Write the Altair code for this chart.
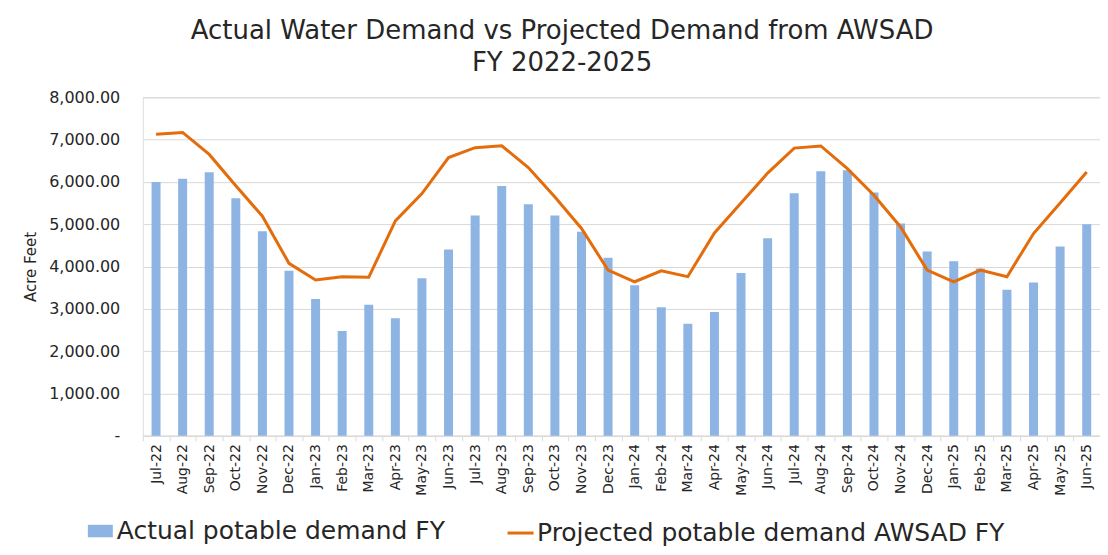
import altair as alt
import pandas as pd

months = ["Jul-22", "Aug-22", "Sep-22", "Oct-22", "Nov-22", "Dec-22",
          "Jan-23", "Feb-23", "Mar-23", "Apr-23", "May-23", "Jun-23",
          "Jul-23", "Aug-23", "Sep-23", "Oct-23", "Nov-23", "Dec-23",
          "Jan-24", "Feb-24", "Mar-24", "Apr-24", "May-24", "Jun-24",
          "Jul-24", "Aug-24", "Sep-24", "Oct-24", "Nov-24", "Dec-24",
          "Jan-25", "Feb-25", "Mar-25", "Apr-25", "May-25", "Jun-25"]

actual = [6000, 6075, 6230, 5615, 4835, 3900,
          3230, 2475, 3095, 2775, 3720, 4405,
          5205, 5905, 5470, 5205, 4820, 4205,
          3560, 3035, 2645, 2925, 3845, 4670,
          5735, 6250, 6275, 5750, 5015, 4355,
          4125, 3955, 3450, 3625, 4475, 5000]

projected = [7125, 7170, 6650, 5910, 5190, 4075,
             3680, 3760, 3745, 5080, 5725, 6575,
             6810, 6855, 6340, 5645, 4900, 3915,
             3640, 3900, 3760, 4795, 5500, 6210,
             6800, 6850, 6315, 5685, 4935, 3915,
             3640, 3915, 3760, 4780, 5500, 6235]

actual_name = "Actual potable demand FY"
projected_name = "Projected potable demand AWSAD FY"
title_lines = ["Actual Water Demand vs Projected Demand from AWSAD", "FY 2022-2025"]
y_ticks = [0, 1000, 2000, 3000, 4000, 5000, 6000, 7000, 8000]

FONT = "DejaVu Sans"
TXT = "#262626"

df = pd.DataFrame({
    "Month": months,
    "Actual": actual,
    "Projected": projected,
    "s1": actual_name,
    "s2": projected_name,
})

x_enc = alt.X(
    "Month:N", sort=months,
    scale=alt.Scale(paddingInner=0, paddingOuter=0),
    axis=alt.Axis(title=None, labelAngle=270, labelFontSize=14, labelFont=FONT,
                  labelColor=TXT, labelPadding=3, tickBand="extent", tickSize=5,
                  tickColor="#d9d9d9", domainColor="#d9d9d9", grid=False),
)

y_axis = alt.Axis(
    values=y_ticks, title="Acre Feet", titleFontSize=15, titleFont=FONT,
    titleFontWeight="normal", titleColor=TXT, titlePadding=10,
    labelFontSize=16, labelFont=FONT, labelColor=TXT, labelPadding=23,
    labelExpr="datum.value == 0 ? '-\u00a0\u00a0' : format(datum.value, ',.2f')",
    domain=False, ticks=False, grid=True, gridColor="#d9d9d9",
)

base = alt.Chart(df)

bars = base.mark_bar(size=9).encode(
    x=x_enc,
    y=alt.Y("Actual:Q", scale=alt.Scale(domain=[0, 8000]), axis=y_axis),
    fill=alt.Fill("s1:N", scale=alt.Scale(range=["#8eb4e3"]),
                  legend=alt.Legend(title=None, orient="none", legendX=-55, legendY=422,
                                    symbolType="M-1,-0.5H1V0.5H-1Z", symbolSize=625,
                                    symbolStrokeWidth=0, labelFontSize=25, labelFont=FONT,
                                    labelColor=TXT, labelOffset=4, labelLimit=700, padding=0)),
)

line = base.mark_line(strokeWidth=3).encode(
    x=x_enc,
    y=alt.Y("Projected:Q", scale=alt.Scale(domain=[0, 8000])),
    stroke=alt.Stroke("s2:N", scale=alt.Scale(range=["#e46c0a"]),
                      legend=alt.Legend(title=None, orient="none", legendX=364, legendY=422,
                                        symbolType="stroke", symbolSize=676,
                                        symbolStrokeWidth=3, labelFontSize=25, labelFont=FONT,
                                        labelColor=TXT, labelOffset=2, labelLimit=700, padding=0)),
)

chart = alt.layer(bars, line).properties(
    width=959, height=339,
    title=alt.TitleParams(text=title_lines, fontSize=26, font=FONT, fontWeight="normal",
                          color=TXT, anchor="middle", frame="bounds", lineHeight=32, offset=13),
    autosize=alt.AutoSizeParams(type="none"),
    padding={"left": 135, "top": 89, "right": 0, "bottom": 117},
).configure_view(stroke=None).configure(background="white")

chart.save("out.html", embed_options={"renderer": "svg", "actions": False})
